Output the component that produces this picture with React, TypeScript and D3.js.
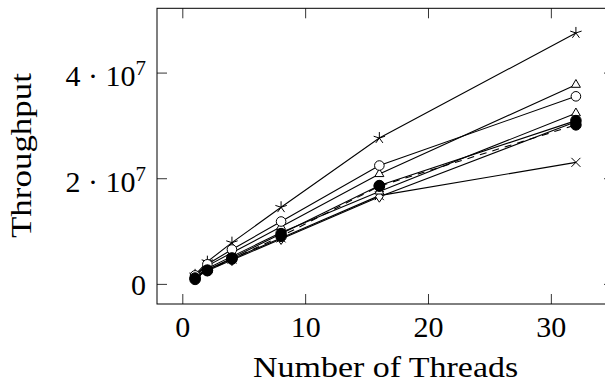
import React from 'react'
import * as d3 from 'd3'

// threads on the x axis
const threads = [1, 2, 4, 8, 16, 32]

// throughput per series
const starSeries = [1.8e6, 4.3e6, 7.9e6, 1.46e7, 2.77e7, 4.76e7]
const triangleHighSeries = [1.6e6, 3.5e6, 6.0e6, 1.09e7, 2.09e7, 3.78e7]
const circleSeries = [1.7e6, 3.8e6, 6.6e6, 1.19e7, 2.25e7, 3.56e7]
const triangleLowSeries = [1.4e6, 3.0e6, 5.3e6, 9.8e6, 1.76e7, 3.24e7]
const diamondSeries = [1.2e6, 2.6e6, 4.6e6, 8.6e6, 1.66e7, 3.08e7]
const crossSeries = [1.3e6, 2.8e6, 4.8e6, 8.8e6, 1.68e7, 2.31e7]
const dashedSeries = [0.95e6, 2.6e6, 4.8e6, 9.1e6, 1.86e7, 3.02e7]
const dotSeries = [1.2e6, 2.7e6, 5.0e6, 9.6e6, 1.87e7, 3.1e7]

const xTicks = [0, 10, 20, 30]
const yTicks = [0, 2e7, 4e7]

const series = [
  { name: 'star', values: starSeries, mark: 'star', dashed: false },
  { name: 'cross', values: crossSeries, mark: 'x', dashed: false },
  { name: 'diamond', values: diamondSeries, mark: 'diamond', dashed: false },
  { name: 'triangleLow', values: triangleLowSeries, mark: 'triangle', dashed: false },
  { name: 'triangleHigh', values: triangleHighSeries, mark: 'triangle', dashed: false },
  { name: 'circle', values: circleSeries, mark: 'o', dashed: false },
  { name: 'dashed', values: dashedSeries, mark: '*', dashed: true },
  { name: 'dot', values: dotSeries, mark: '*', dashed: false },
]

const width = 605, height = 386
const left = 157, right = 614, top = 8.3, bottom = 304
const font = '"Liberation Serif", "Times New Roman", serif'

// pgfplots style: enlarge limits by 10% of data range
const enlarge = ([a, b]: [number, number]) => [a - (b - a) * 0.1, b + (b - a) * 0.1]
const xExt = d3.extent(threads) as [number, number]
const yExt = d3.extent(series.flatMap(s => s.values)) as [number, number]

const xScale = d3.scaleLinear().domain(enlarge(xExt)).range([left, right])
const yScale = d3.scaleLinear().domain(enlarge(yExt)).range([bottom, top])

const Mark = ({ type, x, y }: { type: string, x: number, y: number }) => {
  const sw = 1
  if (type === 'star') {
    const r = 6
    const d = d3.range(5).map(i => {
      const a = (-90 + i * 72) * Math.PI / 180
      return `M${x},${y}L${x + r * Math.cos(a)},${y + r * Math.sin(a)}`
    }).join('')
    return <path d={d} stroke="#000" strokeWidth={sw} fill="none" />
  }
  if (type === 'x') {
    const r = 4.5
    return <path d={`M${x - r},${y - r}L${x + r},${y + r}M${x - r},${y + r}L${x + r},${y - r}`} stroke="#000" strokeWidth={sw} />
  }
  if (type === 'diamond') {
    return <path d={`M${x},${y - 5.5}L${x + 3.8},${y}L${x},${y + 5.5}L${x - 3.8},${y}Z`} stroke="#000" strokeWidth={sw} fill="#fff" />
  }
  if (type === 'triangle') {
    const r = 5.2
    return <path d={`M${x},${y - r}L${x + r * 0.866},${y + r / 2}L${x - r * 0.866},${y + r / 2}Z`} stroke="#000" strokeWidth={sw} fill="#fff" />
  }
  if (type === 'o') {
    return <circle cx={x} cy={y} r={4.8} stroke="#000" strokeWidth={sw} fill="#fff" />
  }
  return <circle cx={x} cy={y} r={5.3} stroke="#000" strokeWidth={sw} fill="#000" />
}

const yLabel = (v: number) => {
  if (v === 0) return <tspan>0</tspan>
  const exp = Math.floor(Math.log10(v))
  const m = v / Math.pow(10, exp)
  return (
    <>
      <tspan>{`${m} \u00B7 10`}</tspan>
      <tspan fontSize={21} dy={-11.5}>{exp}</tspan>
    </>
  )
}

export default function App () {
  const line = d3.line<number>()
    .x((d, i) => xScale(threads[i]))
    .y(d => yScale(d))

  return (
    <svg width={width} height={height} style={{ position: 'absolute', left: 0, top: 0, background: '#fff' }}>
      <rect width={width} height={height} fill="#fff" />

      {/* ticks (inward, both sides) */}
      <g stroke="#000" strokeWidth={0.8}>
        {xTicks.map(t => (
          <g key={'x' + t}>
            <line x1={xScale(t)} x2={xScale(t)} y1={bottom} y2={bottom - 10} />
            <line x1={xScale(t)} x2={xScale(t)} y1={top} y2={top + 10} />
          </g>
        ))}
        {yTicks.map(t => (
          <g key={'y' + t}>
            <line x1={left} x2={left + 10} y1={yScale(t)} y2={yScale(t)} />
            <line x1={right} x2={right - 10} y1={yScale(t)} y2={yScale(t)} />
          </g>
        ))}
      </g>

      {/* lines */}
      <g fill="none" stroke="#000" strokeWidth={1.1}>
        {series.map(s => (
          <path key={s.name} d={line(s.values) || ''} strokeDasharray={s.dashed ? '7 6' : undefined} />
        ))}
      </g>

      {/* marks */}
      {series.map(s => (
        <g key={s.name + '-m'}>
          {s.values.map((v, i) => <Mark key={i} type={s.mark} x={xScale(threads[i])} y={yScale(v)} />)}
        </g>
      ))}

      {/* frame */}
      <rect x={left} y={top} width={right - left} height={bottom - top} fill="none" stroke="#000" strokeWidth={1} />

      {/* tick labels */}
      <g fontFamily={font} fontSize={30} fill="#000">
        {xTicks.map(t => (
          <text key={'xl' + t} x={xScale(t)} y={337} textAnchor="middle">{t}</text>
        ))}
        {yTicks.map(t => (
          <text key={'yl' + t} x={146} y={yScale(t) + (t === 0 ? 10.5 : 13.4)} textAnchor="end">{yLabel(t)}</text>
        ))}
      </g>

      {/* axis labels */}
      <text x={385.6} y={376.7} fontFamily={font} fontSize={30} fill="#000" textAnchor="middle"
        textLength={265} lengthAdjust="spacingAndGlyphs">Number of Threads</text>
      <text transform={`translate(31,155.5) rotate(-90)`} fontFamily={font} fontSize={30} fill="#000" textAnchor="middle"
        textLength={165} lengthAdjust="spacingAndGlyphs">Throughput</text>
    </svg>
  )
}
